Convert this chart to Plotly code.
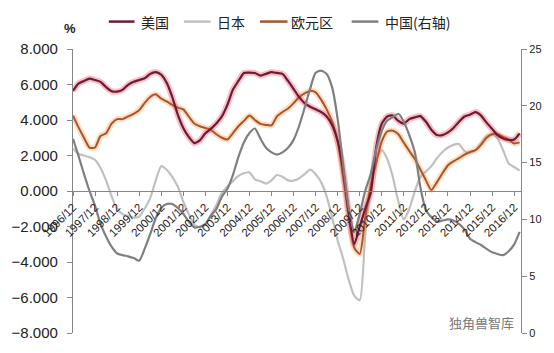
import plotly.graph_objects as go
import pandas as pd

# ---- data (quarterly, 1996/12 .. 2017/03) ----
quarters = pd.date_range("1996-12-01", periods=82, freq="3MS")

us = [5.64, 6.05, 6.20, 6.33, 6.25, 6.15, 5.85, 5.62, 5.60, 5.70,
      5.98, 6.15, 6.25, 6.35, 6.60, 6.70, 6.55, 6.10, 5.30, 4.30,
      3.55, 3.05, 2.70, 2.85, 3.25, 3.50, 3.80, 4.20, 4.85, 5.70,
      6.20, 6.65, 6.67, 6.65, 6.50, 6.60, 6.70, 6.65, 6.60, 6.20,
      5.75, 5.30, 4.95, 4.75, 4.60, 4.45, 4.20, 3.70, 2.80, 1.20,
      -1.20, -3.00, -2.00, -1.00, -0.10, 2.50, 3.80, 4.20, 4.25, 3.95,
      3.80, 4.05, 4.15, 4.22, 3.90, 3.45, 3.15, 3.15, 3.30, 3.55,
      3.90, 4.20, 4.30, 4.44, 4.25, 3.85, 3.50, 3.15, 2.96, 2.88,
      2.90, 3.25]

japan = [2.40, 2.10, 2.00, 1.90, 1.75, 1.30, 0.60, -0.30, -1.00, -1.30,
         -1.40, -1.50, -1.45, -1.00, -0.40, 0.60, 1.40, 1.20, 0.80, 0.25,
         -0.60, -1.30, -1.90, -2.05, -1.90, -1.35, -0.80, -0.10, 0.25, 0.55,
         0.85, 1.00, 1.05, 0.65, 0.55, 0.42, 0.60, 0.90, 0.80, 0.60,
         0.58, 0.70, 0.95, 1.20, 0.95, 0.50, -0.30, -1.50, -2.80, -3.80,
         -5.00, -5.90, -6.15, -2.50, 0.30, 1.80, 2.30, 1.80, 0.80, -0.60,
         -1.60, -1.00, 0.00, 0.80, 1.10, 1.40, 1.85, 2.20, 2.45, 2.60,
         2.65, 2.25, 2.15, 2.30, 2.70, 3.10, 3.20, 2.95, 2.30, 1.55,
         1.35, 1.15]

euro = [4.25, 3.60, 3.00, 2.45, 2.45, 3.10, 3.25, 3.80, 4.05, 4.05,
        4.20, 4.35, 4.55, 4.95, 5.30, 5.45, 5.20, 5.05, 4.85, 4.70,
        4.60, 4.20, 3.80, 3.65, 3.55, 3.45, 3.20, 3.00, 2.90, 3.25,
        3.65, 3.95, 4.25, 4.00, 3.78, 3.72, 3.70, 4.20, 4.45, 4.65,
        4.95, 5.28, 5.50, 5.64, 5.56, 5.15, 4.60, 3.90, 2.80, 0.80,
        -1.50, -3.20, -3.55, -1.50, 0.30, 1.60, 2.80, 3.35, 3.40, 3.20,
        2.72, 2.25, 1.80, 1.20, 0.60, 0.05, 0.50, 1.00, 1.45, 1.67,
        1.85, 2.05, 2.20, 2.30, 2.60, 3.00, 3.20, 3.20, 3.05, 2.90,
        2.68, 2.74]

china = [17.1, 15.6, 14.0, 12.5, 11.2, 9.6, 8.5, 7.6, 7.0, 6.85,
         6.75, 6.60, 6.36, 7.40, 8.70, 10.1, 11.0, 11.35, 11.35, 11.0,
         10.5, 9.8, 9.3, 9.35, 9.6, 10.3, 10.9, 12.0, 12.7, 13.9,
         15.5, 16.8, 17.6, 18.0, 17.1, 16.3, 15.9, 15.7, 15.9, 16.3,
         17.0, 18.2, 19.8, 21.5, 22.9, 23.1, 22.8, 21.6, 18.8, 14.8,
         11.0, 8.9, 10.5, 12.5, 14.0, 16.2, 17.8, 18.7, 19.0, 19.3,
         18.6, 17.4, 15.9, 12.8, 10.8, 10.2, 9.8, 9.9, 10.0, 9.9,
         9.6, 9.1, 8.3, 8.0, 7.75, 7.4, 7.1, 6.95, 6.86, 7.2,
         7.8, 8.9]

names = ["美国", "日本", "欧元区", "中国(右轴)"]
left_ticks = [-8, -6, -4, -2, 0, 2, 4, 6, 8]
right_ticks = [0, 5, 10, 15, 20, 25]

# ---- styles ----
US_C = "#6d1a35"
US_HALO = "rgba(235,70,90,0.35)"
JP_C = "#c0c0c0"
EU_C = "#a8552a"
EU_HALO = "rgba(250,160,90,0.35)"
CN_C = "#7f7f7f"
AX_C = "#868686"
SHAPE = dict(shape="spline", smoothing=0.6)

fig = go.Figure()

def add(y, color, width, name, yaxis="y", halo=None):
    if halo:
        fig.add_trace(go.Scatter(x=quarters, y=y, mode="lines", yaxis=yaxis,
                                 line=dict(color=halo, width=width + 4, **SHAPE),
                                 hoverinfo="skip", showlegend=False))
    fig.add_trace(go.Scatter(x=quarters, y=y, mode="lines", name=name, yaxis=yaxis,
                             line=dict(color=color, width=width, **SHAPE),
                             showlegend=False))

add(china, CN_C, 2.2, names[3], yaxis="y2")
add(japan, JP_C, 2.2, names[1])
add(euro, EU_C, 2.0, names[2], halo=EU_HALO)
add(us, US_C, 2.2, names[0], halo=US_HALO)

# plot area in pixels
L, R, T, B = 67.7, 521.5, 49.3, 337.3
W, H = 554, 353

def px(x):
    return (x - L) / (R - L)

def py(y):
    return (B - y) / (B - T)

shapes = []
annotations = []
legend_items = [
    (names[0], US_C, 104, 130, 135),
    (names[1], JP_C, 180, 207, 212),
    (names[2], EU_C, 257, 285, 287),
    (names[3], CN_C, 350, 377, 382),
]
for text, col, x0, x1, tx in legend_items:
    shapes.append(dict(type="line", xref="paper", yref="paper",
                       x0=px(x0), x1=px(x1), y0=py(21.5), y1=py(21.5),
                       line=dict(color=col, width=2.5)))
    annotations.append(dict(text=text, xref="paper", yref="paper",
                            x=px(tx), y=py(21.5), xanchor="left", yanchor="middle",
                            showarrow=False,
                            font=dict(family="Noto Sans CJK SC", size=14, color="#222")))

annotations.append(dict(text="<b>%</b>", xref="paper", yref="paper",
                        x=px(65), y=py(29), xanchor="center", yanchor="middle",
                        showarrow=False,
                        font=dict(family="Liberation Sans", size=13, color="#222")))
annotations.append(dict(text="独角兽智库", xref="paper", yref="paper",
                        x=px(516), y=py(327), xanchor="right", yanchor="middle",
                        showarrow=False,
                        font=dict(family="Noto Sans CJK SC", size=13, color="#777")))

fig.update_layout(
    width=W, height=H,
    margin=dict(l=L, r=W - R, t=T, b=H - B, pad=0),
    paper_bgcolor="white", plot_bgcolor="white",
    showlegend=False,
    font=dict(family="Liberation Sans", color="#222"),
    shapes=shapes, annotations=annotations,
    xaxis=dict(
        type="date", range=["1996-12-01", "2017-03-24"],
        anchor="free", position=0.5,
        tick0="1996-12-01", dtick="M12", tickformat="%Y/%m",
        tickangle=-45, tickfont=dict(size=11.5, color="#222"),
        ticks="outside", ticklen=4, tickcolor=AX_C,
        showline=True, linecolor=AX_C, linewidth=1.2,
        showgrid=False, zeroline=False,
    ),
    yaxis=dict(
        range=[-8, 8], tickvals=left_ticks, tickformat=".3f",
        tickfont=dict(size=15, color="#222"),
        ticks="outside", ticklen=5, tickcolor=AX_C,
        showline=True, linecolor=AX_C, linewidth=1.2,
        showgrid=False, zeroline=False, ticklabelstandoff=6,
    ),
    yaxis2=dict(
        range=[0, 25], tickvals=right_ticks, overlaying="y", side="right",
        tickfont=dict(size=11, color="#222"),
        ticks="outside", ticklen=5, tickcolor=AX_C,
        showline=True, linecolor=AX_C, linewidth=1.2,
        showgrid=False, zeroline=False,
    ),
)

fig.write_html("out.html")
